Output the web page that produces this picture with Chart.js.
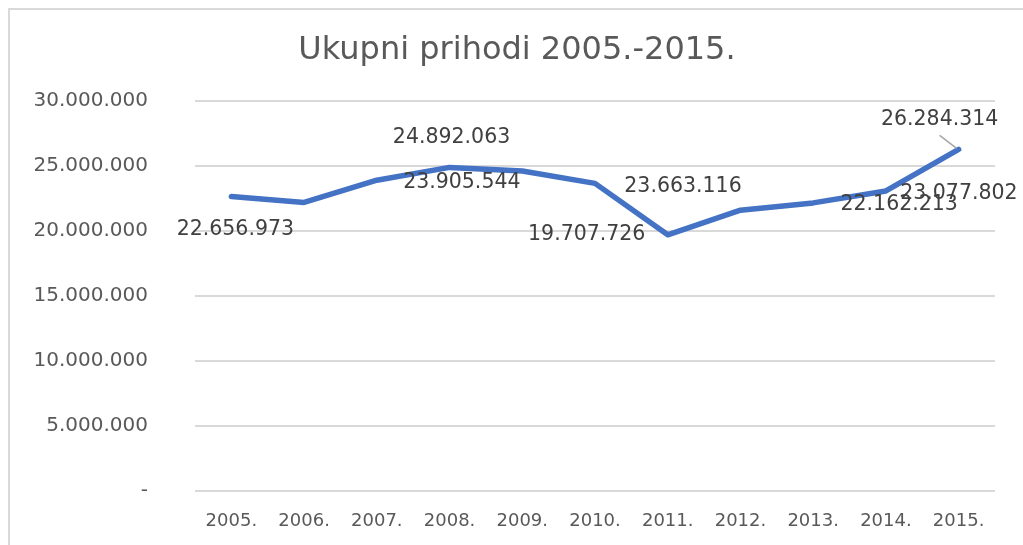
<!DOCTYPE html>
<html>
<head>
<meta charset="utf-8">
<script src="https://cdn.jsdelivr.net/npm/chart.js@4"></script>
<style>
    body { margin: 0; background: #fff; overflow: hidden; }
    #wrap { position: relative; width: 1023px; height: 545px; overflow: hidden; }
    #frame { position: absolute; left: 8px; top: 8px; width: 1100px; height: 600px;
             border-left: 2px solid #d9d9d9; border-top: 2px solid #d9d9d9; }
    #prihodiChart { position: absolute; left: 0; top: 0; }
</style>
</head>
<body>
<div id="wrap">
    <div id="frame"></div>
    <canvas id="prihodiChart" width="1023" height="545"></canvas>
</div>
<script>
// years on the x axis
const years = ["2005.", "2006.", "2007.", "2008.", "2009.", "2010.", "2011.", "2012.", "2013.", "2014.", "2015."];
// total revenue per year (unlabeled years)
const prihodi = [22656973, 22200000, 23905544, 24892063, 24620000, 23663116, 19707726, 21600000, 22162213, 23077802, 26284314];
// which points carry a data label
const labeledPoints = [0, 2, 3, 5, 6, 8, 9, 10];
// y ticks
const yMin = 0;
const yMax = 30000000;
const yStep = 5000000;
const chartTitle = 'Ukupni prihodi 2005.-2015.';

// where excel put each label, relative to its point
const labelOffsets = {
    0: [4, 33], 2: [85, 2], 3: [2, -30], 5: [88, 3],
    6: [-81, 0], 8: [86, 2], 9: [73, 3], 10: [-19, -30]
};

function formatNum(v) {
    return String(v).replace(/\B(?=(\d{3})+(?!\d))/g, '.');
}

// title is drawn by hand so it can sit a bit right of the canvas centre like in excel
const titlePlugin = {
    id: 'titlePlugin',
    afterDraw(chart) {
        const ctx = chart.ctx;
        ctx.save();
        ctx.font = '32px "DejaVu Sans"';
        ctx.fillStyle = '#595959';
        ctx.textAlign = 'center';
        ctx.textBaseline = 'middle';
        ctx.fillText(chartTitle, 517, 51);
        ctx.restore();
    }
};

// draws the data labels (and the little leader line on the last one)
const dataLabels = {
    id: 'dataLabels',
    afterDatasetsDraw(chart) {
        const ctx = chart.ctx;
        const meta = chart.getDatasetMeta(0);
        ctx.save();
        ctx.font = '20.5px "DejaVu Sans"';
        ctx.fillStyle = '#404040';
        ctx.textAlign = 'center';
        ctx.textBaseline = 'middle';
        labeledPoints.forEach(i => {
            const pt = meta.data[i];
            const off = labelOffsets[i];
            ctx.fillText(formatNum(prihodi[i]), pt.x + off[0], pt.y + off[1]);
        });
        // leader line for 2015
        const last = meta.data[10];
        ctx.strokeStyle = '#a6a6a6';
        ctx.lineWidth = 1.5;
        ctx.beginPath();
        ctx.moveTo(last.x - 19, last.y - 14);
        ctx.lineTo(last.x - 2, last.y - 1);
        ctx.stroke();
        ctx.restore();
    }
};

const ctx = document.getElementById('prihodiChart').getContext('2d');
const prihodiChart = new Chart(ctx, {
    type: 'line',
    data: {
        labels: years,
        datasets: [{
            label: 'Ukupni prihodi',
            data: prihodi,
            borderColor: '#4472C4',
            borderWidth: 5.5,
            pointRadius: 0,
            borderJoinStyle: 'round',
            borderCapStyle: 'round',
            tension: 0,
            fill: false
        }]
    },
    options: {
        responsive: false,
        animation: false,
        layout: {
            padding: { top: 101, right: 28, bottom: 14, left: 0 }
        },
        plugins: {
            legend: { display: false },
            tooltip: { enabled: false },
            title: { display: false }
        },
        scales: {
            x: {
                offset: true,
                afterFit(scale) { scale.height = 40; },
                grid: { display: false },
                border: { display: false },
                ticks: {
                    color: '#595959',
                    padding: 12,
                    maxRotation: 0,
                    font: { family: '"DejaVu Sans"', size: 18 }
                }
            },
            y: {
                min: yMin,
                max: yMax,
                afterFit(scale) { scale.width = 195; },
                // tick padding also pads the bottom of the plot, so keep it small and use an invisible tick mark
                grid: { color: '#d9d9d9', lineWidth: 2, drawTicks: true, tickLength: 7, tickColor: 'rgba(0,0,0,0)' },
                border: { display: false },
                ticks: {
                    stepSize: yStep,
                    color: '#595959',
                    padding: 40,
                    font: { family: '"DejaVu Sans"', size: 20 },
                    callback: (v) => v === 0 ? '-' : formatNum(v)
                }
            }
        }
    },
    plugins: [titlePlugin, dataLabels]
});
</script>
</body>
</html>
